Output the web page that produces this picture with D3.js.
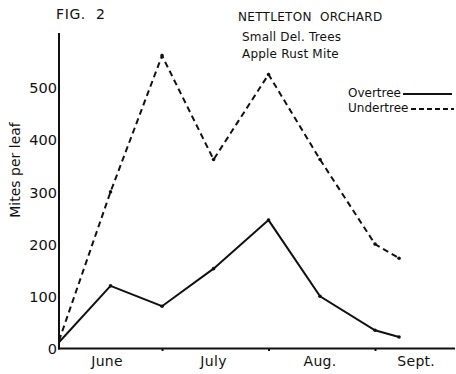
<!DOCTYPE html>
<html>
<head>
<meta charset="utf-8">
<script src="https://cdn.jsdelivr.net/npm/d3@7/dist/d3.min.js"></script>
<style>
  html, body { margin: 0; padding: 0; background: #fff; }
  svg { display: block; }
  text { font-family: "DejaVu Sans", sans-serif; fill: #111; white-space: pre; }
</style>
</head>
<body>
<svg id="chart" width="456" height="374"></svg>
<script>
// Semi-monthly sample dates (month-day)
const sampleDates = ["06-01", "06-16", "07-01", "07-16", "08-01", "08-16", "09-01", "09-08"];
// Apple rust mites per leaf
const overtree  = [12, 120, 81, 153, 246, 100, 35, 22];
const undertree = [15, 300, 561, 362, 525, 362, 200, 173];

const yTicks = [0, 100, 200, 300, 400, 500];
const monthTicks = ["07-01", "08-01", "09-01"];
const monthLabels = ["June", "July", "Aug.", "Sept."];
const monthLabelDates = ["06-15", "07-16", "08-16", "09-13"];

const titleLines = ["NETTLETON  ORCHARD", "Small Del. Trees", "Apple Rust Mite"];

const parse = d3.timeParse("%m-%d");
const svg = d3.select("#chart");

const x = d3.scaleTime()
  .domain([parse("06-01"), parse("09-01")])
  .range([59, 375]);
const y = d3.scaleLinear()
  .domain([0, 600])
  .range([348.5, 35.3]);

const ink = "#111";
const x0 = x(parse("06-01"));

// X axis with small month-boundary ticks
const xAxis = svg.append("g")
  .attr("transform", `translate(0,${y(0)})`)
  .call(d3.axisBottom(x).tickValues(monthTicks.map(parse)).tickSize(2.5).tickFormat(""));
xAxis.select(".domain").remove();
xAxis.selectAll(".tick line").attr("stroke", ink).attr("stroke-width", 2);
svg.append("line")
  .attr("x1", x0 - 1).attr("x2", 455)
  .attr("y1", y(0)).attr("y2", y(0))
  .attr("stroke", ink).attr("stroke-width", 2);

// Y axis
const yAxis = svg.append("g")
  .attr("transform", `translate(${x0},0)`)
  .call(d3.axisLeft(y).tickValues(yTicks).tickSize(0).tickPadding(2));
yAxis.select(".domain").remove();
yAxis.selectAll(".tick text")
  .style("font-size", "14.5px")
  .attr("dy", "0.36em");
svg.append("line")
  .attr("x1", x0).attr("x2", x0)
  .attr("y1", 33).attr("y2", y(0) + 1)
  .attr("stroke", ink).attr("stroke-width", 2);

// Month labels
svg.append("g").selectAll("text")
  .data(monthLabels)
  .join("text")
  .attr("x", (d, i) => x(parse(monthLabelDates[i])))
  .attr("y", 366)
  .attr("text-anchor", "middle")
  .style("font-size", "14px")
  .style("letter-spacing", "0.3px")
  .text(d => d);

// Y axis title
svg.append("text")
  .attr("transform", "translate(20,170) rotate(-90)")
  .attr("text-anchor", "middle")
  .style("font-size", "14px")
  .text("Mites per leaf");

// Figure number and heading
svg.append("text")
  .attr("x", 56).attr("y", 19)
  .style("font-size", "14px")
  .style("letter-spacing", "0.6px")
  .text("FIG.  2");

svg.append("g").selectAll("text")
  .data(titleLines)
  .join("text")
  .attr("x", (d, i) => i === 0 ? 238 : 242)
  .attr("y", (d, i) => [21, 41, 58][i])
  .style("font-size", "12px")
  .style("letter-spacing", (d, i) => i === 0 ? "0.3px" : "0.2px")
  .text(d => d);

// Series lines
const line = d3.line()
  .x((d, i) => x(parse(sampleDates[i])))
  .y(d => y(d));

svg.append("path")
  .datum(undertree)
  .attr("d", line)
  .attr("fill", "none")
  .attr("stroke", ink)
  .attr("stroke-width", 2)
  .attr("stroke-dasharray", "6,4");

svg.append("path")
  .datum(overtree)
  .attr("d", line)
  .attr("fill", "none")
  .attr("stroke", ink)
  .attr("stroke-width", 2);

[overtree, undertree].forEach(series => {
  svg.append("g").selectAll("circle")
    .data(series.slice(1))
    .join("circle")
    .attr("cx", (d, i) => x(parse(sampleDates[i + 1])))
    .attr("cy", d => y(d))
    .attr("r", 1.8)
    .attr("fill", ink);
});

// Legend
const legend = svg.append("g");
legend.append("text").attr("x", 348).attr("y", 97).style("font-size", "12px").text("Overtree");
legend.append("line").attr("x1", 403).attr("x2", 452).attr("y1", 94).attr("y2", 94)
  .attr("stroke", ink).attr("stroke-width", 2);
legend.append("text").attr("x", 348).attr("y", 112).style("font-size", "12px").text("Undertree");
legend.append("line").attr("x1", 411).attr("x2", 454).attr("y1", 109).attr("y2", 109)
  .attr("stroke", ink).attr("stroke-width", 2).attr("stroke-dasharray", "5,3");
</script>
</body>
</html>
